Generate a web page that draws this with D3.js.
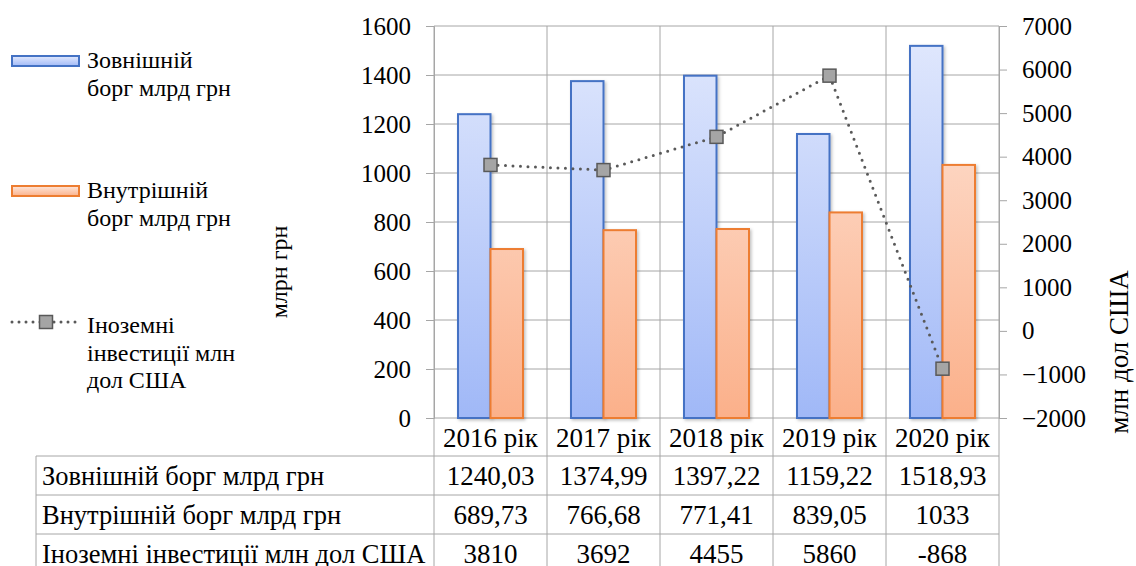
<!DOCTYPE html>
<html>
<head>
<meta charset="utf-8">
<script src="https://cdn.jsdelivr.net/npm/d3@7"></script>
</head>
<body style="margin:0">
<svg id="chart" width="1136" height="566" style="display:block"></svg>
<script>
// Categories and series
const years = ["2016 рік", "2017 рік", "2018 рік", "2019 рік", "2020 рік"];
const externalDebt = [1240.03, 1374.99, 1397.22, 1159.22, 1518.93];
const internalDebt = [689.73, 766.68, 771.41, 839.05, 1033];
const foreignInvest = [3810, 3692, 4455, 5860, -868];

// Labels
const seriesNames = ["Зовнішній борг млрд грн", "Внутрішній борг млрд грн", "Іноземні інвестиції млн дол США"];
const tableLabels = ["1240,03", "1374,99", "1397,22", "1159,22", "1518,93"];
const tableLabels2 = ["689,73", "766,68", "771,41", "839,05", "1033"];
const tableLabels3 = ["3810", "3692", "4455", "5860", "-868"];
const leftTicks = [0, 200, 400, 600, 800, 1000, 1200, 1400, 1600];
const rightTicks = [-2000, -1000, 0, 1000, 2000, 3000, 4000, 5000, 6000, 7000];

const FONT = '"Liberation Serif", "Times New Roman", serif';
const svg = d3.select("#chart");
const plot = { left: 434, right: 999, top: 26, bottom: 418 };
const gridColor = "#a6a6a6";

const x = d3.scaleBand().domain(years).range([plot.left, plot.right]).paddingInner(0).paddingOuter(0);
const yL = d3.scaleLinear().domain([0, 1600]).range([plot.bottom, plot.top]);
const yR = d3.scaleLinear().domain([-2000, 7000]).range([plot.bottom, plot.top]);

// Gradients for bars
const defs = svg.append("defs");
function grad(id, top, bottom) {
  const g = defs.append("linearGradient").attr("id", id).attr("x1", 0).attr("y1", 0).attr("x2", 0).attr("y2", 1);
  g.append("stop").attr("offset", "0%").attr("stop-color", top);
  g.append("stop").attr("offset", "100%").attr("stop-color", bottom);
}
grad("gBlue", "#e2e9fd", "#a2baf7");
grad("gOrange", "#fee6da", "#fbb28c");
// vertical gradients spanning the whole plot height so colour depends on y
function gradUser(id, top, bottom) {
  const g = defs.append("linearGradient").attr("id", id).attr("gradientUnits", "userSpaceOnUse")
    .attr("x1", 0).attr("y1", plot.top).attr("x2", 0).attr("y2", plot.bottom);
  g.append("stop").attr("offset", "0%").attr("stop-color", top);
  g.append("stop").attr("offset", "100%").attr("stop-color", bottom);
}
gradUser("uBlue", "#e2e9fd", "#a0b8f7");
gradUser("uOrange", "#fee8dd", "#fbb08a");

const shadow = defs.append("filter").attr("id", "shadow").attr("x", "-20%").attr("y", "-5%").attr("width", "140%").attr("height", "110%");
shadow.append("feDropShadow").attr("dx", 1.5).attr("dy", 1.5).attr("stdDeviation", 1.5).attr("flood-color", "#000").attr("flood-opacity", 0.25);

// Horizontal gridlines
svg.append("g").selectAll("line").data(leftTicks).join("line")
  .attr("x1", plot.left).attr("x2", plot.right)
  .attr("y1", d => yL(d)).attr("y2", d => yL(d))
  .attr("stroke", gridColor).attr("stroke-width", 1);

// Vertical gridlines (category boundaries), continued into the data table
const bounds = years.map(d => x(d)).concat([plot.right]);
svg.append("g").selectAll("line").data(bounds).join("line")
  .attr("x1", d => d).attr("x2", d => d)
  .attr("y1", plot.top).attr("y2", 566)
  .attr("stroke", gridColor).attr("stroke-width", 1);

// Left axis
const axL = svg.append("g").attr("transform", `translate(${plot.left},0)`)
  .call(d3.axisLeft(yL).tickValues(leftTicks).tickSize(8).tickPadding(15).tickFormat(d3.format("d")));
axL.attr("font-family", null).attr("font-size", null);
axL.select(".domain").attr("stroke", gridColor);
axL.selectAll(".tick line").attr("stroke", gridColor);
axL.selectAll("text").style("font-family", FONT).attr("font-size", 25).attr("fill", "#000");

// Right axis
const axR = svg.append("g").attr("transform", `translate(${plot.right},0)`)
  .call(d3.axisRight(yR).tickValues(rightTicks).tickSize(8).tickPadding(15).tickFormat(d3.format("d")));
axR.attr("font-family", null).attr("font-size", null);
axR.select(".domain").attr("stroke", gridColor);
axR.selectAll(".tick line").attr("stroke", gridColor);
axR.selectAll("text").style("font-family", FONT).attr("font-size", 25).attr("fill", "#000");

// Bars
const barW = 32.5;
const bars = svg.append("g");
bars.selectAll("rect.ext").data(years).join("rect").attr("class", "ext")
  .attr("x", d => x(d) + x.bandwidth() / 2 - barW)
  .attr("y", (d, i) => yL(externalDebt[i]))
  .attr("width", barW)
  .attr("height", (d, i) => yL(0) - yL(externalDebt[i]))
  .attr("fill", "url(#uBlue)").attr("stroke", "#4472c4").attr("stroke-width", 2)
  .attr("filter", "url(#shadow)");
bars.selectAll("rect.int").data(years).join("rect").attr("class", "int")
  .attr("x", d => x(d) + x.bandwidth() / 2)
  .attr("y", (d, i) => yL(internalDebt[i]))
  .attr("width", barW)
  .attr("height", (d, i) => yL(0) - yL(internalDebt[i]))
  .attr("fill", "url(#uOrange)").attr("stroke", "#ed7d31").attr("stroke-width", 2)
  .attr("filter", "url(#shadow)");

// Foreign investment line (secondary axis)
const line = d3.line().x((d, i) => x(years[i]) + x.bandwidth() / 2).y(d => yR(d));
svg.append("path").datum(foreignInvest)
  .attr("d", line).attr("fill", "none")
  .attr("stroke", "#595959").attr("stroke-width", 3)
  .attr("stroke-linecap", "round").attr("stroke-dasharray", "0 7.5");
const mk = 13;
svg.append("g").selectAll("rect").data(foreignInvest).join("rect")
  .attr("x", (d, i) => x(years[i]) + x.bandwidth() / 2 - mk / 2)
  .attr("y", d => yR(d) - mk / 2)
  .attr("width", mk).attr("height", mk)
  .attr("fill", "#a5a5a5").attr("stroke", "#595959").attr("stroke-width", 1.5);

// Helper for serif text
function txt(sel, size) {
  return sel.append("text").style("font-family", FONT).attr("font-size", size).attr("fill", "#000");
}

// Axis titles
txt(svg, 24).attr("transform", "translate(287,272) rotate(-90)")
  .attr("text-anchor", "middle").text("млрн грн");
txt(svg, 27).attr("transform", "translate(1128,352) rotate(-90)")
  .attr("text-anchor", "middle").text("млн дол США");

// Data table
const rowTop = [418, 456, 495, 534];
const rowH = 39;
const tableLeft = 36;
const tbl = svg.append("g");
[1, 2, 3].forEach(r => {
  tbl.append("line").attr("x1", tableLeft).attr("x2", plot.right)
    .attr("y1", rowTop[r]).attr("y2", rowTop[r]).attr("stroke", gridColor);
});
tbl.append("line").attr("x1", tableLeft).attr("x2", tableLeft).attr("y1", rowTop[1]).attr("y2", 566).attr("stroke", gridColor);
// header
years.forEach(d => {
  txt(tbl, 27).attr("x", x(d) + x.bandwidth() / 2).attr("y", rowTop[0] + rowH / 2)
    .attr("dy", "0.35em").attr("text-anchor", "middle").text(d);
});
const rows = [tableLabels, tableLabels2, tableLabels3];
rows.forEach((vals, r) => {
  const cy = rowTop[r + 1] + rowH / 2;
  txt(tbl, 26.5).attr("x", 42).attr("y", cy).attr("dy", "0.35em").text(seriesNames[r]);
  vals.forEach((v, i) => {
    txt(tbl, 27).attr("x", x(years[i]) + x.bandwidth() / 2).attr("y", cy)
      .attr("dy", "0.35em").attr("text-anchor", "middle").text(v);
  });
});

// Legend
const leg = svg.append("g");
leg.append("rect").attr("x", 12).attr("y", 56).attr("width", 67).attr("height", 10)
  .attr("fill", "url(#gBlue)").attr("stroke", "#4472c4").attr("stroke-width", 2);
leg.append("rect").attr("x", 12).attr("y", 186).attr("width", 67).attr("height", 10)
  .attr("fill", "url(#gOrange)").attr("stroke", "#ed7d31").attr("stroke-width", 2);
leg.append("line").attr("x1", 12).attr("x2", 80).attr("y1", 322).attr("y2", 322)
  .attr("stroke", "#595959").attr("stroke-width", 3).attr("stroke-linecap", "round").attr("stroke-dasharray", "0 7");
leg.append("rect").attr("x", 46 - mk / 2).attr("y", 322 - mk / 2).attr("width", mk).attr("height", mk)
  .attr("fill", "#a5a5a5").attr("stroke", "#595959").attr("stroke-width", 1.5);
const legText = [
  { y: 68, lines: ["Зовнішній", "борг млрд грн"] },
  { y: 198, lines: ["Внутрішній", "борг млрд грн"] },
  { y: 333, lines: ["Іноземні", "інвестиції млн", "дол США"] }
];
legText.forEach(t => {
  t.lines.forEach((s, j) => {
    txt(leg, 24).attr("x", 87).attr("y", t.y + j * 27.5).text(s);
  });
});
</script>
</body>
</html>
